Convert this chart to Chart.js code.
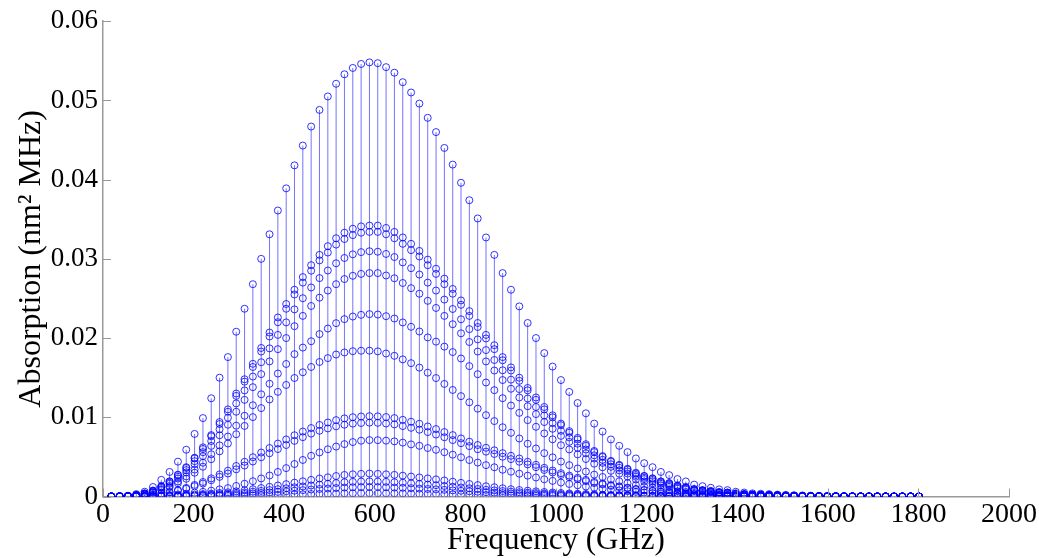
<!DOCTYPE html>
<html>
<head>
<meta charset="utf-8">
<title>Absorption spectrum</title>
<script src="https://cdn.jsdelivr.net/npm/chart.js@4.4.1/dist/chart.umd.min.js"></script>
<style>
    html, body { margin: 0; padding: 0; background: #fff; }
    #wrap { width: 1039px; height: 558px; }
</style>
</head>
<body>
<div id="wrap"><canvas id="absChart" width="1039" height="558"></canvas></div>
<script>
// line positions (GHz)
var freqs = [18.4, 36.8, 55.1, 73.5, 91.9, 110.3, 128.7, 147.0, 165.4, 183.8,
    202.2, 220.6, 238.9, 257.3, 275.7, 294.1, 312.5, 330.8, 349.2, 367.6,
    386.0, 404.4, 422.7, 441.1, 459.5, 477.9, 496.3, 514.6, 533.0, 551.4,
    569.8, 588.2, 606.5, 624.9, 643.3, 661.7, 680.1, 698.4, 716.8, 735.2,
    753.6, 772.0, 790.3, 808.7, 827.1, 845.5, 863.9, 882.2, 900.6, 919.0,
    937.4, 955.8, 974.1, 992.5, 1010.9, 1029.3, 1047.7, 1066.0, 1084.4, 1102.8,
    1121.2, 1139.6, 1157.9, 1176.3, 1194.7, 1213.1, 1231.5, 1249.8, 1268.2, 1286.6,
    1305.0, 1323.4, 1341.7, 1360.1, 1378.5, 1396.9, 1415.3, 1433.6, 1452.0, 1470.4,
    1488.8, 1507.2, 1525.5, 1543.9, 1562.3, 1580.7, 1599.1, 1617.4, 1635.8, 1654.2,
    1672.6, 1691.0, 1709.3, 1727.7, 1746.1, 1764.5, 1782.9, 1801.2];

// absorption of each line series, in units of 1e-4 nm^2 MHz
var s1 = [0.2, 0.5, 1, 3, 6, 12, 21, 31, 44, 59,
    79, 99, 124, 150, 176, 208, 237, 268, 300, 331,
    361, 389, 418, 443, 467, 488, 505, 521, 533, 541,
    546, 548, 547, 542, 535, 523, 510, 496, 478, 460,
    440, 419, 396, 374, 351, 327, 305, 282, 261, 240,
    219, 200, 181, 164, 147, 132, 118, 105, 92, 82,
    72, 64, 56, 48, 42, 37, 31, 27, 22, 19,
    15, 13, 11, 9, 8, 6, 5, 4, 3.5, 3,
    2.4, 2, 1.6, 1.3, 1, 0.8, 0.6, 0.5, 0.4, 0.3,
    0.25, 0.2, 0.15, 0.12, 0.1, 0.08, 0.06, 0.05];
var s2 = [0.1, 0.3, 0.6, 2, 4, 7.5, 13, 19, 27.5, 37,
    49, 62, 77.5, 94, 110, 130, 148, 167.5, 187.5, 207,
    226, 243, 261, 277, 292, 305, 316, 326, 333, 338,
    341, 342, 342, 339, 334, 327, 319, 310, 299, 287.5,
    275, 262, 247.5, 234, 219, 204, 191, 176, 163, 150,
    137, 125, 113, 102.5, 92, 82.5, 74, 66, 57.5, 51,
    45, 40, 35, 30, 26, 23, 19, 17, 14, 12,
    9.4, 8, 7, 5.6, 5, 3.8, 3, 2.5, 2.2, 1.9,
    1.5, 1.2, 1, 0.8, 0.6, 0.5, 0.4, 0.3, 0.25, 0.2,
    0.15, 0.12, 0.1, 0.08, 0.06, 0.05, 0.04, 0.03];
var s3 = [0.1, 0.3, 0.6, 1.8, 3.7, 7.3, 12.8, 19, 27, 36,
    48, 60, 76, 91.5, 107, 127, 145, 163.5, 183, 202,
    220, 237, 255, 270, 285, 298, 308, 318, 325, 330,
    333, 334, 334, 331, 326, 319, 311, 303, 292, 281,
    268, 256, 242, 228, 214, 199.5, 186, 172, 159, 146,
    134, 122, 110, 100, 90, 80.5, 72, 64, 56, 50,
    44, 39, 34, 29, 25.6, 22.6, 19, 16.5, 13.4, 11.6,
    9.2, 7.9, 6.7, 5.5, 4.9, 3.7, 3, 2.4, 2.1, 1.8,
    1.5, 1.2, 1, 0.8, 0.6, 0.5, 0.4, 0.3, 0.24, 0.18,
    0.15, 0.12, 0.09, 0.07, 0.06, 0.05, 0.04, 0.03];
var s4 = [0.1, 0.3, 0.6, 1.7, 3.4, 6.8, 11.9, 17.5, 24.9, 33.3,
    44.6, 55.9, 70, 84.8, 99.4, 117.5, 133.9, 151.4, 169.5, 187,
    204, 219.8, 236.2, 250.3, 263.9, 275.7, 285.3, 294.4, 301.1, 305.7,
    308.5, 309.6, 309, 306.2, 302.3, 295.5, 288.2, 280.2, 270, 260,
    248.6, 236.7, 223.7, 211.3, 198.3, 184.8, 172.3, 159.3, 147.5, 135.6,
    123.7, 113, 102.3, 92.7, 83, 74.6, 66.7, 59.3, 52, 46.3,
    40.7, 36.2, 31.6, 27.1, 23.7, 20.9, 17.5, 15.3, 12.4, 10.7,
    8.5, 7.3, 6.2, 5.1, 4.5, 3.4, 2.8, 2.3, 2, 1.7,
    1.4, 1.1, 0.9, 0.7, 0.6, 0.45, 0.34, 0.28, 0.23, 0.17,
    0.14, 0.11, 0.08, 0.07, 0.06, 0.05, 0.03, 0.03];
var s5 = [0.1, 0.25, 0.5, 1.5, 3.1, 6.2, 10.8, 16, 22.7, 30.4,
    40.7, 51, 63.9, 77.3, 90.6, 107, 122, 138, 154.5, 170.5,
    186, 200, 215, 228, 240.5, 251, 260, 268, 274.5, 278.6,
    281, 282, 282, 279, 275.5, 269.5, 263, 256, 247, 238,
    228, 217.5, 206, 195, 183, 170.5, 159, 147, 136, 125,
    114, 104, 94, 85.5, 76.5, 69, 61.5, 54.5, 48, 42.5,
    37.5, 33, 29, 25, 22, 19, 16, 14, 11.4, 9.9,
    7.8, 6.8, 5.7, 4.7, 4.2, 3.1, 2.6, 2.1, 1.8, 1.6,
    1.2, 1, 0.8, 0.7, 0.5, 0.4, 0.3, 0.26, 0.2, 0.16,
    0.13, 0.1, 0.08, 0.06, 0.05, 0.04, 0.03, 0.03];
var s6 = [0.1, 0.2, 0.4, 1.3, 2.6, 5.2, 9, 13.3, 18.9, 25.4,
    34, 42.6, 53.3, 64.5, 75.7, 89.4, 101.9, 115.2, 129, 142.3,
    155.2, 167.3, 179.7, 188, 196, 205, 212, 218.8, 223.9, 227.2,
    229.3, 230.2, 229.7, 227.6, 224.7, 219.7, 214.2, 208.3, 200.8, 195.5,
    189.2, 182.3, 174.2, 164.6, 154.4, 143.9, 134.2, 124.1, 114.8, 105.6,
    96.4, 88, 79.6, 72.2, 64.7, 59.4, 53.1, 47.3, 41.4, 36.9,
    32.4, 28.8, 25.2, 21.6, 18.9, 16.7, 14, 12.2, 9.9, 8.6,
    6.8, 5.9, 5, 4.1, 3.6, 2.7, 2.3, 1.8, 1.6, 1.4,
    1.1, 0.9, 0.7, 0.6, 0.45, 0.36, 0.27, 0.23, 0.18, 0.14,
    0.11, 0.09, 0.07, 0.05, 0.05, 0.04, 0.03, 0.02];
var s7 = [0.1, 0.2, 0.4, 1.1, 2.3, 4.6, 8, 11.8, 16.7, 22.4,
    30, 37.6, 47.1, 57, 66.9, 78.6, 89.1, 100.2, 111.6, 122.5,
    132.1, 140.8, 149.6, 156.8, 163.5, 169.8, 174.7, 179.2, 181.8, 183.4,
    184, 184.1, 183.2, 180.5, 177.6, 173.1, 168.3, 162.7, 156.3, 149.5,
    142.1, 134.5, 126.7, 118.9, 110.9, 102.7, 95.2, 87.4, 80.4, 73.2,
    66.6, 60.6, 54.7, 49.4, 44.1, 39.6, 35.4, 31.5, 27.6, 24.6,
    21.6, 19.2, 16.8, 14.4, 12.6, 11.1, 9.3, 8.1, 6.6, 5.7,
    4.5, 3.9, 3.3, 2.7, 2.4, 1.8, 1.5, 1.2, 1.05, 0.9,
    0.7, 0.6, 0.5, 0.4, 0.3, 0.24, 0.18, 0.15, 0.12, 0.09,
    0.08, 0.06, 0.05, 0.04, 0.03, 0.02, 0.02, 0.02];
var s8 = [0.04, 0.1, 0.2, 0.55, 1.1, 2.2, 3.9, 5.7, 8.1, 10.9,
    14.6, 18.3, 22.9, 27.8, 32.6, 38.5, 43.8, 49.6, 55.5, 61.2,
    66.8, 72, 77.3, 82, 86.4, 90.3, 93.4, 96.4, 98.6, 100.1,
    101, 101.4, 101.2, 100.3, 99, 96.8, 94.4, 91.8, 88.4, 85.1,
    81.4, 77.5, 73.3, 69.2, 65, 61.5, 58.3, 54.7, 51.4, 48,
    43.8, 40, 36.2, 32.8, 29.4, 26.4, 23.6, 21, 18.4, 16.4,
    14.4, 12.8, 11.2, 9.6, 8.4, 7.4, 6.2, 5.4, 4.4, 3.8,
    3, 2.6, 2.2, 1.8, 1.6, 1.2, 1, 0.8, 0.7, 0.6,
    0.5, 0.4, 0.32, 0.26, 0.2, 0.16, 0.12, 0.1, 0.08, 0.06,
    0.05, 0.04, 0.03, 0.02, 0.02, 0.02, 0.01, 0.01];
var s9 = [0.03, 0.08, 0.17, 0.5, 1, 2, 3.5, 5.1, 7.3, 9.7,
    13, 16.3, 20.5, 24.8, 29, 34.3, 39.1, 44.2, 49.5, 54.6,
    59.9, 65, 70.2, 74.9, 79.4, 83, 85.9, 88.6, 90.6, 92,
    92.8, 93.2, 93, 92.1, 91, 88.9, 86.7, 84.3, 81.3, 78.2,
    74.8, 71.2, 67.3, 63.6, 59.7, 56.6, 53.7, 50.2, 47.2, 43.9,
    40.5, 37, 33.5, 30.3, 27.2, 24.4, 21.8, 19.4, 17, 15.2,
    13.3, 11.8, 10.4, 8.9, 7.8, 6.8, 5.7, 5, 4.1, 3.5,
    2.8, 2.4, 2, 1.7, 1.5, 1.1, 0.9, 0.74, 0.65, 0.55,
    0.44, 0.37, 0.3, 0.24, 0.19, 0.15, 0.11, 0.09, 0.07, 0.06,
    0.05, 0.04, 0.03, 0.02, 0.02, 0.01, 0.01, 0.01];
var s10 = [0.01, 0.03, 0.06, 0.18, 0.36, 0.72, 1.3, 1.9, 2.6, 3.5,
    4.7, 5.9, 7.4, 9, 10.6, 13.3, 16.1, 19.3, 22.8, 26.5,
    31, 35.8, 41, 46.1, 51.4, 55.6, 59.6, 63, 66.1, 68.7,
    70.4, 71.2, 71.1, 70.5, 69.6, 68, 65.8, 64, 61.2, 58.9,
    55.9, 52.8, 49.5, 46, 42.8, 39.6, 36.9, 33.8, 31.3, 28.8,
    26.3, 24, 21.7, 19.7, 17.6, 15.8, 14.2, 12.6, 11, 9.8,
    8.6, 7.7, 6.7, 5.8, 5, 4.4, 3.7, 3.2, 2.6, 2.3,
    1.8, 1.6, 1.3, 1.1, 1, 0.7, 0.6, 0.5, 0.4, 0.36,
    0.29, 0.24, 0.19, 0.16, 0.12, 0.1, 0.07, 0.06, 0.05, 0.04,
    0.03, 0.02, 0.02, 0.01, 0.01, 0.01, 0.01, 0.01];
var s11 = [0.01, 0.01, 0.01, 0.09, 0.18, 0.36, 0.63, 0.93, 1.3, 1.8,
    2.4, 3, 3.7, 4.5, 5.3, 6.5, 7.8, 9.2, 10.7, 12.2,
    13.9, 15.6, 17.5, 19.2, 21, 22.7, 24.2, 25.8, 27.2, 28,
    28.6, 29, 28.6, 28, 27.3, 26.3, 25.2, 24.1, 22.8, 21.6,
    20.2, 18.7, 17.2, 15.8, 14.4, 12.9, 11.7, 10.4, 9.2, 8.2,
    7.3, 6.5, 5.7, 5.1, 4.4, 3.9, 3.5, 3.1, 2.7, 2.3,
    2, 1.8, 1.6, 1.3, 1.2, 1, 0.87, 0.76, 0.62, 0.53,
    0.42, 0.36, 0.31, 0.25, 0.22, 0.17, 0.14, 0.11, 0.1, 0.08,
    0.07, 0.06, 0.04, 0.04, 0.03, 0.02, 0.02, 0.01, 0.01, 0.01,
    0.01, 0.01, 0.01, 0.01, 0, 0, 0, 0];
var s12 = [0.01, 0.01, 0.01, 0.06, 0.12, 0.24, 0.42, 0.61, 0.86, 1.2,
    1.6, 2, 2.4, 3, 3.5, 4.3, 5.1, 6.1, 7.1, 8.1,
    9.2, 10.3, 11.6, 12.7, 13.9, 15, 16, 17, 18, 18.5,
    18.9, 19.1, 18.9, 18.5, 18, 17.4, 16.6, 15.9, 15, 14.3,
    13.3, 12.3, 11.4, 10.4, 9.5, 8.5, 7.7, 6.9, 6.1, 5.4,
    4.8, 4.3, 3.8, 3.4, 2.9, 2.6, 2.3, 2, 1.8, 1.5,
    1.3, 1.2, 1, 0.86, 0.79, 0.66, 0.57, 0.5, 0.41, 0.35,
    0.28, 0.24, 0.2, 0.17, 0.15, 0.11, 0.09, 0.07, 0.07, 0.05,
    0.05, 0.04, 0.03, 0.03, 0.02, 0.01, 0.01, 0.01, 0.01, 0.01,
    0.01, 0.01, 0, 0, 0, 0, 0, 0];
var s13 = [0.01, 0.01, 0.01, 0.04, 0.08, 0.15, 0.26, 0.38, 0.54, 0.76,
    1, 1.3, 1.5, 1.9, 2.2, 2.7, 3.2, 3.8, 4.5, 5.1,
    5.8, 6.5, 7.3, 8, 8.8, 9.5, 10.1, 10.7, 11.3, 11.7,
    11.9, 12, 11.9, 11.7, 11.3, 11, 10.5, 10, 9.5, 9,
    8.4, 7.7, 7.2, 6.6, 6, 5.4, 4.9, 4.3, 3.8, 3.4,
    3, 2.7, 2.4, 2.1, 1.8, 1.6, 1.4, 1.3, 1.1, 0.95,
    0.82, 0.76, 0.63, 0.54, 0.5, 0.42, 0.36, 0.32, 0.26, 0.22,
    0.18, 0.15, 0.13, 0.11, 0.09, 0.07, 0.06, 0.05, 0.04, 0.03,
    0.03, 0.03, 0.02, 0.02, 0.01, 0.01, 0.01, 0.01, 0.01, 0.01,
    0, 0, 0, 0, 0, 0, 0, 0];
var s14 = [0, 0, 0, 0.01, 0.03, 0.05, 0.09, 0.13, 0.19, 0.27,
    0.35, 0.45, 0.53, 0.66, 0.77, 0.95, 1.1, 1.3, 1.6, 1.8,
    2, 2.3, 2.6, 2.8, 3.1, 3.3, 3.5, 3.7, 4, 4.1,
    4.2, 4.2, 4.2, 4.1, 4, 3.9, 3.7, 3.5, 3.3, 3.2,
    2.9, 2.7, 2.5, 2.3, 2.1, 1.9, 1.7, 1.5, 1.3, 1.2,
    1.05, 0.95, 0.84, 0.74, 0.63, 0.56, 0.49, 0.46, 0.39, 0.33,
    0.29, 0.27, 0.22, 0.19, 0.18, 0.15, 0.13, 0.11, 0.09, 0.08,
    0.06, 0.05, 0.05, 0.04, 0.03, 0.02, 0.02, 0.02, 0.01, 0.01,
    0.01, 0.01, 0.01, 0, 0, 0, 0, 0, 0, 0,
    0, 0, 0, 0, 0, 0, 0, 0];

var allSeries = [s1, s2, s3, s4, s5, s6, s7, s8, s9, s10, s11, s12, s13, s14];
var UNIT = 1e-4;

var xTicks = [0, 200, 400, 600, 800, 1000, 1200, 1400, 1600, 1800, 2000];
var yTicks = [0, 0.01, 0.02, 0.03, 0.04, 0.05, 0.06];

var STEM_BLUE = 'rgba(0, 0, 255, 0.55)';
var MARK_BLUE = 'rgba(0, 0, 255, 0.8)';
var AXIS_GRAY = '#9a9a9a';
var SERIF = "'Liberation Serif', 'Times New Roman', serif";

function toPoints(vals) {
    return freqs.map(function(f, i) { return { x: f, y: vals[i] * UNIT }; });
}

var datasets = [];
// stems - the tallest series (s1) covers the stems of the ones below it
datasets.push({
    type: 'bar',
    data: toPoints(s1),
    backgroundColor: STEM_BLUE,
    borderWidth: 0,
    barThickness: 1,
    inflateAmount: 0,
    order: 100
});
// open circle markers for every series
allSeries.forEach(function(vals, k) {
    datasets.push({
        type: 'scatter',
        data: toPoints(vals),
        pointStyle: 'circle',
        pointRadius: 3.5,
        pointBorderWidth: 1,
        pointBorderColor: MARK_BLUE,
        pointBackgroundColor: 'rgba(0,0,0,0)',
        showLine: false,
        order: k
    });
});

// MATLAB style ticks pointing into the plot
var inwardTicks = {
    id: 'inwardTicks',
    afterDatasetsDraw: function(chart) {
        var ctx = chart.ctx, area = chart.chartArea;
        var sx = chart.scales.x, sy = chart.scales.y;
        ctx.save();
        ctx.strokeStyle = AXIS_GRAY;
        ctx.lineWidth = 1;
        ctx.beginPath();
        xTicks.forEach(function(v) {
            var px = Math.round(sx.getPixelForValue(v)) + 0.5;
            ctx.moveTo(px, area.bottom);
            ctx.lineTo(px, area.bottom - 8);
        });
        yTicks.forEach(function(v) {
            var py = Math.round(sy.getPixelForValue(v)) + 0.5;
            ctx.moveTo(area.left, py);
            ctx.lineTo(area.left + 8, py);
        });
        ctx.stroke();
        ctx.restore();
    }
};

var absChart = new Chart(document.getElementById('absChart'), {
    type: 'scatter',
    data: { datasets: datasets },
    options: {
        responsive: false,
        devicePixelRatio: 1,
        animation: false,
        layout: { padding: { top: 20, right: 30, bottom: 0, left: 0 } },
        plugins: {
            legend: { display: false },
            tooltip: { enabled: false }
        },
        scales: {
            x: {
                type: 'linear',
                min: 0,
                max: 2000,
                offset: false,
                afterBuildTicks: function(scale) {
                    scale.ticks = xTicks.map(function(v) { return { value: v }; });
                },
                afterFit: function(scale) { scale.height = 61.5; },
                ticks: {
                    autoSkip: false,
                    maxRotation: 0,
                    padding: 1,
                    color: '#000',
                    font: { family: SERIF, size: 28 },
                    callback: function(v) { return String(v); }
                },
                grid: { display: false, drawTicks: false },
                border: { display: true, color: AXIS_GRAY, width: 1.5 },
                title: {
                    display: true,
                    text: 'Frequency (GHz)',
                    color: '#000',
                    font: { family: SERIF, size: 31, lineHeight: 1 },
                    padding: { top: 0, bottom: 2 }
                }
            },
            y: {
                type: 'linear',
                min: 0,
                max: 0.06,
                afterBuildTicks: function(scale) {
                    scale.ticks = yTicks.map(function(v) { return { value: v }; });
                },
                afterFit: function(scale) { scale.width = 103; },
                ticks: {
                    padding: 5,
                    color: '#000',
                    font: { family: SERIF, size: 27 },
                    callback: function(v) { return String(v); }
                },
                grid: { display: false, drawTicks: false },
                border: { display: true, color: AXIS_GRAY, width: 1.5 },
                title: {
                    display: true,
                    text: 'Absorption (nm\u00B2 MHz)',
                    color: '#000',
                    font: { family: SERIF, size: 32, lineHeight: 1 },
                    padding: { top: 16, bottom: 0 }
                }
            }
        }
    },
    plugins: [inwardTicks]
});
</script>
</body>
</html>
